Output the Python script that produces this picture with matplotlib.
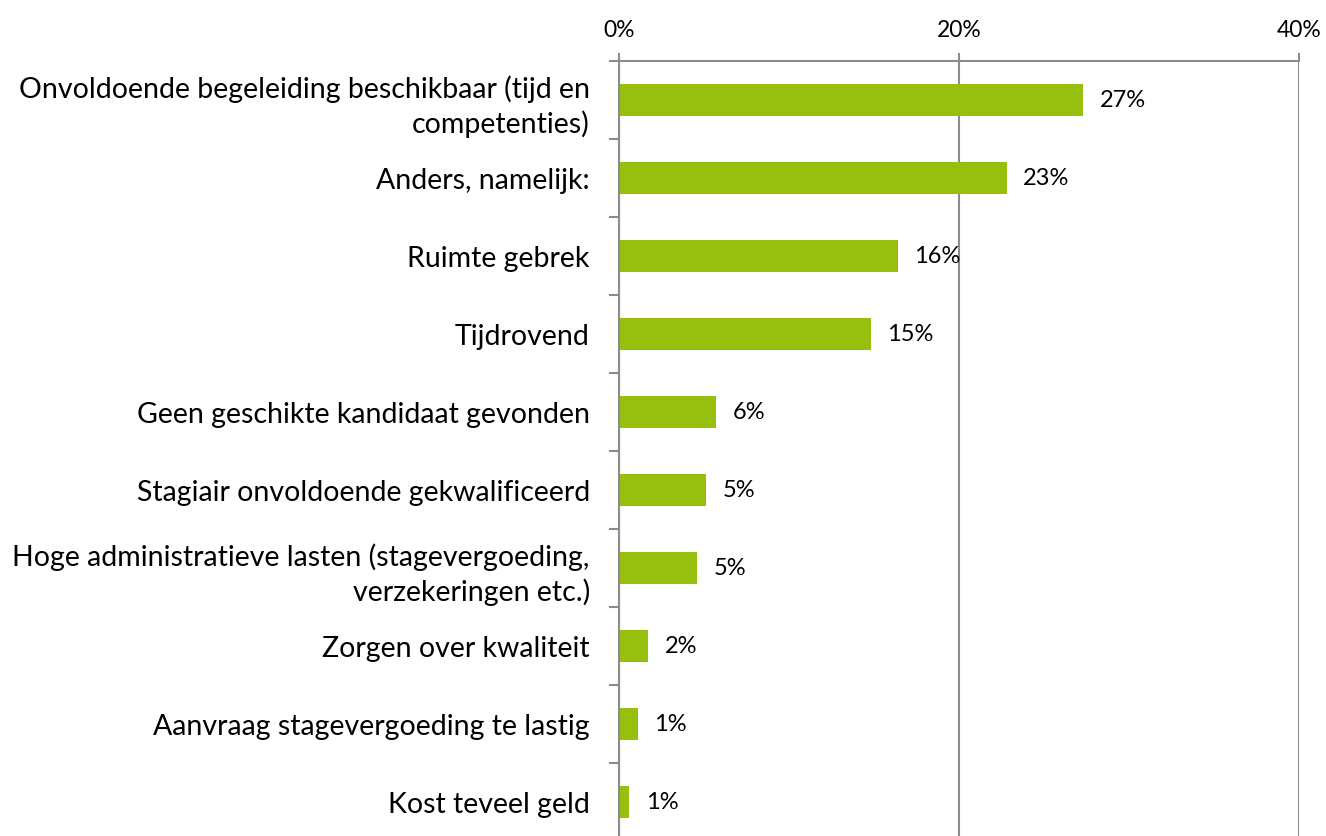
import matplotlib.pyplot as plt
from matplotlib.ticker import FixedLocator

# --- data (percent) ---
categories = [
    "Onvoldoende begeleiding beschikbaar (tijd en\ncompetenties)",
    "Anders, namelijk:",
    "Ruimte gebrek",
    "Tijdrovend",
    "Geen geschikte kandidaat gevonden",
    "Stagiair onvoldoende gekwalificeerd",
    "Hoge administratieve lasten (stagevergoeding,\nverzekeringen etc.)",
    "Zorgen over kwaliteit",
    "Aanvraag stagevergoeding te lastig",
    "Kost teveel geld",
]
values = [27.3, 22.8, 16.4, 14.8, 5.7, 5.1, 4.6, 1.7, 1.1, 0.6]
xticks = [0, 20, 40]

green = "#97C00E"
grey = "#8C8C8C"
plt.rcParams['font.family'] = ['Lato', 'DejaVu Sans']

W, H = 1326, 837
fig = plt.figure(figsize=(W / 100, H / 100), dpi=100)
left, right, top, bottom = 619, 1299, 62, 842
ax = fig.add_axes([left / W, 1 - bottom / H, (right - left) / W, (bottom - top) / H])

y = range(len(categories))
ax.barh(y, values, height=0.41, color=green)
ax.set_xlim(0, 40)
ax.set_ylim(len(categories) - 0.5, -0.5)

for i, v in enumerate(values):
    ax.annotate(f"{v:.0f}%", (v, i), xytext=(12, 0), textcoords="offset points",
                va="center", ha="left", fontsize=17)

# x axis on top
ax.xaxis.tick_top()
ax.set_xticks(xticks)
ax.set_xticklabels([f"{t}%" for t in xticks], fontsize=16.5)
ax.tick_params(axis="x", length=6, width=1.5, color=grey, pad=9)
ax.grid(axis="x", color=grey, linewidth=1.5)
ax.set_axisbelow(True)

# y: labels at centers, ticks at boundaries
ax.set_yticks(list(y))
ax.set_yticklabels(categories, fontsize=20.5, ha="right", multialignment="right",
                   linespacing=1.3)
ax.tick_params(axis="y", which="major", length=0, pad=21)
ax.yaxis.set_minor_locator(FixedLocator([i - 0.5 for i in range(len(categories) + 1)]))
ax.tick_params(axis="y", which="minor", length=7, width=1.5, color=grey)

for s in ["right", "bottom"]:
    ax.spines[s].set_visible(False)
ax.spines["top"].set_color(grey)
ax.spines["top"].set_linewidth(1.5)
ax.spines["left"].set_color(grey)
ax.spines["left"].set_linewidth(1.5)

fig.savefig("out.png", dpi=100)
